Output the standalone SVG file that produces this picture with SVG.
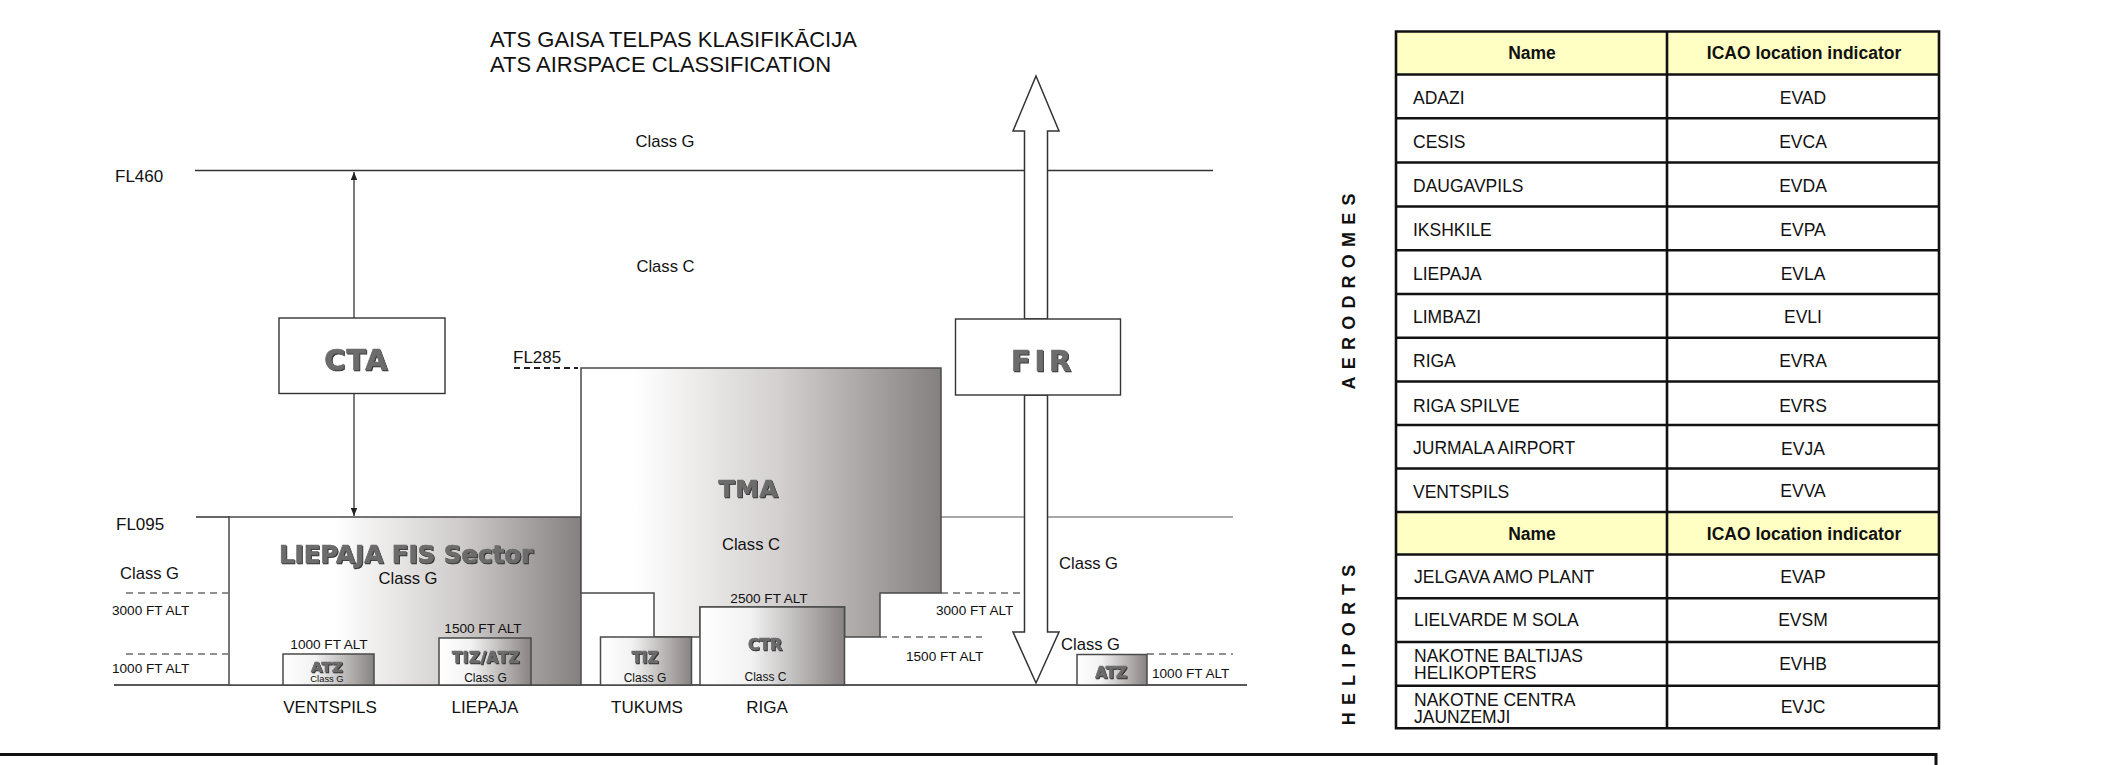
<svg xmlns="http://www.w3.org/2000/svg" width="2106" height="765" viewBox="0 0 2106 765">
<defs>
<style>
.t{font-family:"Liberation Sans",Arial,sans-serif;fill:#111}
.title{font-size:22px}
.lbl{font-size:17px}
.cls{font-size:16.6px}
.alt{font-size:13.6px}
.sm{font-size:12px}
.xs{font-size:9.4px}
.emb{font-family:"DejaVu Sans",Verdana,sans-serif;font-weight:bold;fill:#6c6c6c;stroke:#6c6c6c;stroke-width:0.7px;filter:url(#emb)}
.tb{font-size:17.5px}
.hd{font-size:17.5px;font-weight:bold}
.vt{font-family:"Liberation Sans",Arial,sans-serif;font-weight:bold;font-size:18px;letter-spacing:7.2px;fill:#111}
.lvl{stroke:#333;stroke-width:1.3;fill:none}
.lvl2{stroke:#8a8a8a;stroke-width:1.3;fill:none}
.dash{stroke:#222;stroke-width:1.2;stroke-dasharray:7 5;fill:none}
.edge{stroke:#4a4a4a;stroke-width:1.5}
.box{fill:#fff;stroke:#333;stroke-width:1.4}
.arr{fill:#fff;stroke:#333;stroke-width:1.5;stroke-linejoin:miter}
.grid{stroke:#111;stroke-width:2.6;fill:none}
</style>
<linearGradient id="gL" x1="0" y1="0" x2="1" y2="0">
<stop offset="0" stop-color="#fff"/><stop offset="0.3" stop-color="#fff"/><stop offset="0.65" stop-color="#d0cdcc"/><stop offset="1" stop-color="#858080"/>
</linearGradient>
<linearGradient id="gT" x1="0" y1="0" x2="1" y2="0">
<stop offset="0" stop-color="#fff"/><stop offset="0.15" stop-color="#fff"/><stop offset="0.55" stop-color="#d3d0cf"/><stop offset="1" stop-color="#858080"/>
</linearGradient>
<linearGradient id="gS" x1="0" y1="0" x2="1" y2="0">
<stop offset="0" stop-color="#fff"/><stop offset="0.35" stop-color="#f2f2f2"/><stop offset="1" stop-color="#888382"/>
</linearGradient>
<filter id="emb" x="-10%" y="-30%" width="130%" height="170%">
<feOffset in="SourceAlpha" dx="1.4" dy="1.4" result="o"/>
<feFlood flood-color="#2e2e2e"/>
<feComposite in2="o" operator="in" result="s"/>
<feMerge><feMergeNode in="s"/><feMergeNode in="SourceGraphic"/></feMerge>
</filter>
<marker id="ah" viewBox="0 0 10 10" refX="10" refY="5" markerWidth="8" markerHeight="8" markerUnits="userSpaceOnUse" orient="auto">
<path d="M0,1 L10,5 L0,9 z" fill="#222"/>
</marker>
</defs>
<rect width="2106" height="765" fill="#fff"/>

<g id="title">
<text class="t title" x="490" y="46.5">ATS GAISA TELPAS KLASIFIKĀCIJA</text>
<text class="t title" x="490" y="71.5">ATS AIRSPACE CLASSIFICATION</text>
</g>

<g id="levels">
<path class="lvl" d="M195,170.5 H1213"/>
<path class="lvl" d="M196,517 H230"/>
<path class="lvl2" d="M941,517 H1233"/>
<path d="M514,368 H578" stroke="#222" stroke-width="2" stroke-dasharray="6 4" fill="none"/>
<path class="dash" d="M126,593 H228 M126,654 H228"/>
<path class="dash" d="M941,593 H1024 M880,637 H982 M1147,654 H1233"/>
<path d="M114,685 H1247" stroke="#222" stroke-width="1.6" fill="none"/>
<text class="t lbl" x="115" y="181.5">FL460</text>
<text class="t lbl" x="513" y="362.5">FL285</text>
<text class="t lbl" x="116" y="530">FL095</text>
<text class="t cls" x="665" y="146.5" text-anchor="middle">Class G</text>
<text class="t cls" x="665.5" y="272" text-anchor="middle">Class C</text>
<text class="t cls" x="120" y="579">Class G</text>
<text class="t alt" x="112" y="615">3000 FT ALT</text>
<text class="t alt" x="112" y="673">1000 FT ALT</text>
<text class="t cls" x="1059" y="569">Class G</text>
<text class="t cls" x="1061" y="650">Class G</text>
<text class="t alt" x="936" y="615">3000 FT ALT</text>
<text class="t alt" x="906" y="661">1500 FT ALT</text>
<text class="t alt" x="1152" y="678">1000 FT ALT</text>
<text class="t lbl" x="330" y="713" text-anchor="middle">VENTSPILS</text>
<text class="t lbl" x="485" y="713" text-anchor="middle">LIEPAJA</text>
<text class="t lbl" x="647" y="713" text-anchor="middle">TUKUMS</text>
<text class="t lbl" x="767" y="713" text-anchor="middle">RIGA</text>
</g>

<g id="liepaja-fis">
<rect x="229" y="517" width="352" height="168" fill="url(#gL)" class="edge"/>
<text class="emb" x="406" y="563" font-size="24.5" text-anchor="middle">LIEPAJA FIS Sector</text>
<text class="t cls" x="408" y="584" text-anchor="middle">Class G</text>
</g>

<g id="tma">
<path d="M581,368 H941 V593 H880 V637 H844.5 V607 H700 V637 H654 V593 H581 Z" fill="url(#gT)" class="edge"/>
<text class="emb" x="748.5" y="497" font-size="23.5" letter-spacing="0.8" text-anchor="middle">TMA</text>
<text class="t cls" x="751" y="550" text-anchor="middle">Class C</text>
</g>

<g id="atz-ventspils">
<rect x="283" y="654" width="91" height="31" fill="url(#gS)" class="edge"/>
<text class="t alt" x="329" y="649" text-anchor="middle">1000 FT ALT</text>
<text class="emb" x="327" y="672" font-size="14.5" letter-spacing="0.5" text-anchor="middle">ATZ</text>
<text class="t xs" x="327" y="682" text-anchor="middle">Class G</text>
</g>

<g id="tiz-atz-liepaja">
<rect x="439" y="638" width="92" height="47" fill="url(#gS)" class="edge"/>
<text class="t alt" x="483" y="633" text-anchor="middle">1500 FT ALT</text>
<text class="emb" x="486" y="663" font-size="15" letter-spacing="0.6" text-anchor="middle">TIZ/ATZ</text>
<text class="t sm" x="485.5" y="682" text-anchor="middle">Class G</text>
</g>

<g id="tiz-tukums">
<rect x="600.5" y="637" width="91" height="48" fill="url(#gS)" class="edge"/>
<text class="emb" x="645" y="663" font-size="15" text-anchor="middle">TIZ</text>
<text class="t sm" x="645" y="682" text-anchor="middle">Class G</text>
</g>

<g id="ctr">
<rect x="700" y="607" width="144.5" height="78" fill="url(#gS)" class="edge"/>
<text class="t alt" x="769" y="602.5" text-anchor="middle">2500 FT ALT</text>
<text class="emb" x="765" y="650" font-size="15.5" text-anchor="middle">CTR</text>
<text class="t sm" x="765.5" y="681" text-anchor="middle">Class C</text>
</g>

<g id="atz-right">
<rect x="1077" y="654.5" width="70" height="30.5" fill="url(#gS)" class="edge"/>
<text class="emb" x="1111" y="678" font-size="15" text-anchor="middle">ATZ</text>
</g>

<g id="connectors">
<path d="M354,318 V172" stroke="#222" stroke-width="1.2" fill="none" marker-end="url(#ah)"/>
<path d="M354,393.5 V516" stroke="#222" stroke-width="1.2" fill="none" marker-end="url(#ah)"/>
<path class="arr" d="M1036,76 L1059,131 H1047.5 V319 H1024.5 V131 H1013 Z"/>
<path class="arr" d="M1024.5,395 H1047.5 V632 H1059 L1036,683 L1013,632 H1024.5 Z"/>
</g>

<g id="cta">
<rect class="box" x="279" y="318" width="166" height="75.5"/>
<text class="emb" x="356.5" y="370" font-size="28.5" letter-spacing="1.5" text-anchor="middle">CTA</text>
</g>

<g id="fir">
<rect class="box" x="955.5" y="319" width="165" height="76"/>
<text class="emb" x="1043" y="370.5" font-size="28.5" letter-spacing="4" text-anchor="middle">FIR</text>
</g>

<g id="table">
<rect x="1396" y="31.5" width="543" height="43" fill="#ffffc4"/>
<rect x="1396" y="512" width="543" height="42.5" fill="#ffffc4"/>
<path class="grid" d="M1396,31.5 H1939 V728.3 H1396 Z M1667,31.5 V728.3 M1396,74.5 H1939 M1396,118.3 H1939 M1396,162.5 H1939 M1396,206.5 H1939 M1396,250.3 H1939 M1396,294 H1939 M1396,337.8 H1939 M1396,381.5 H1939 M1396,425 H1939 M1396,468.5 H1939 M1396,512 H1939 M1396,554.5 H1939 M1396,598.3 H1939 M1396,642 H1939 M1396,685.7 H1939"/>
<text class="t hd" x="1532" y="59.3" text-anchor="middle">Name</text>
<text class="t hd" x="1804" y="59.3" text-anchor="middle">ICAO location indicator</text>
<text class="t tb" x="1413" y="104">ADAZI</text><text class="t tb" x="1803" y="104" text-anchor="middle">EVAD</text>
<text class="t tb" x="1413" y="148">CESIS</text><text class="t tb" x="1803" y="148" text-anchor="middle">EVCA</text>
<text class="t tb" x="1413" y="192">DAUGAVPILS</text><text class="t tb" x="1803" y="192" text-anchor="middle">EVDA</text>
<text class="t tb" x="1413" y="236">IKSHKILE</text><text class="t tb" x="1803" y="236" text-anchor="middle">EVPA</text>
<text class="t tb" x="1413" y="279.5">LIEPAJA</text><text class="t tb" x="1803" y="279.5" text-anchor="middle">EVLA</text>
<text class="t tb" x="1413" y="322.5">LIMBAZI</text><text class="t tb" x="1803" y="322.5" text-anchor="middle">EVLI</text>
<text class="t tb" x="1413" y="367">RIGA</text><text class="t tb" x="1803" y="367" text-anchor="middle">EVRA</text>
<text class="t tb" x="1413" y="411.5">RIGA SPILVE</text><text class="t tb" x="1803" y="411.5" text-anchor="middle">EVRS</text>
<text class="t tb" x="1413" y="453.5">JURMALA AIRPORT</text><text class="t tb" x="1803" y="454.5" text-anchor="middle">EVJA</text>
<text class="t tb" x="1413" y="498">VENTSPILS</text><text class="t tb" x="1803" y="497" text-anchor="middle">EVVA</text>
<text class="t hd" x="1532" y="540" text-anchor="middle">Name</text>
<text class="t hd" x="1804" y="540" text-anchor="middle">ICAO location indicator</text>
<text class="t tb" x="1414" y="583.3">JELGAVA AMO PLANT</text><text class="t tb" x="1803" y="583.3" text-anchor="middle">EVAP</text>
<text class="t tb" x="1414" y="626">LIELVARDE M SOLA</text><text class="t tb" x="1803" y="625.5" text-anchor="middle">EVSM</text>
<text class="t tb" x="1414" y="661.5">NAKOTNE BALTIJAS</text>
<text class="t tb" x="1414" y="678.5">HELIKOPTERS</text>
<text class="t tb" x="1803" y="670" text-anchor="middle">EVHB</text>
<text class="t tb" x="1414" y="706">NAKOTNE CENTRA</text>
<text class="t tb" x="1414" y="722.7">JAUNZEMJI</text>
<text class="t tb" x="1803" y="713.3" text-anchor="middle">EVJC</text>
<text class="vt" transform="translate(1355,291.5) rotate(-90)" x="3.6" y="0" text-anchor="middle">AERODROMES</text>
<text class="vt" transform="translate(1355,645) rotate(-90)" x="3.6" y="0" text-anchor="middle">HELIPORTS</text>
</g>

<g id="frame">
<path d="M0,754.5 H1936 V765" stroke="#111" stroke-width="3" fill="none"/>
</g>
</svg>
